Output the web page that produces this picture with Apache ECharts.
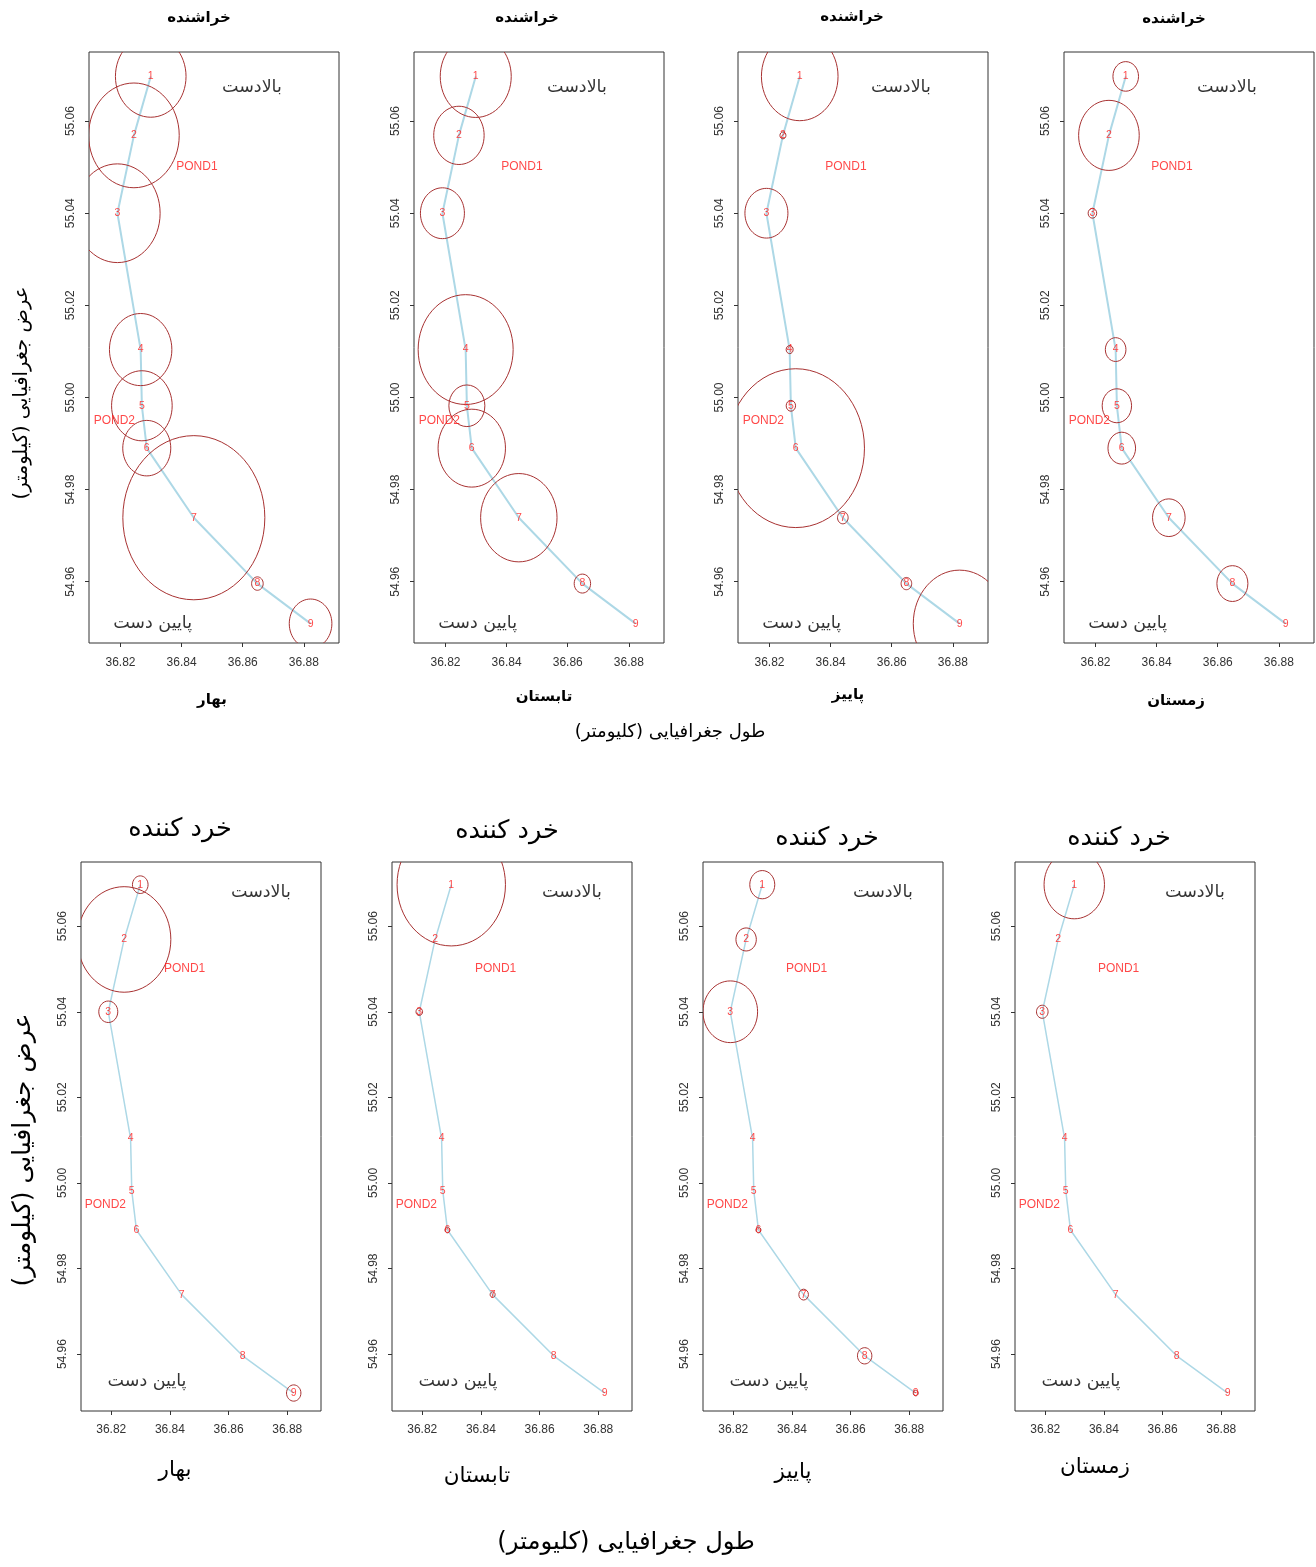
<!DOCTYPE html>
<html><head><meta charset="utf-8">
<script src="https://cdn.jsdelivr.net/npm/echarts@6/dist/echarts.min.js"></script>
<style>html,body{margin:0;padding:0;background:#fff}#c{width:1316px;height:1567px}</style>
</head><body><div id="c"></div>
<script>
// ---- data ----
const stationIds = ['1','2','3','4','5','6','7','8','9'];
const stationLon = [36.8299, 36.8244, 36.8190, 36.8266, 36.8270, 36.8286, 36.8440, 36.8648, 36.8822];
const stationLat = [55.0697, 55.0569, 55.0400, 55.0104, 54.9982, 54.9890, 54.9739, 54.9596, 54.9509];
const xTickValues = [36.82, 36.84, 36.86, 36.88];
const yTickValues = [54.96, 54.98, 55.00, 55.02, 55.04, 55.06];
const seasons = ['بهار', 'تابستان', 'پاییز', 'زمستان'];
const rowTitles = ['خراشنده', 'خرد کننده'];
const xAxisTitle = 'طول جغرافیایی (کلیومتر)';
const yAxisTitle = 'عرض جغرافیایی (کیلومتر)';
const pondNames = ['POND1', 'POND2'];
const pondLon = [36.845, 36.818];
const pondLat = [55.050, 54.995];
const flowNames = ['بالادست', 'پایین دست'];
const flowLonTop = [36.863, 36.8305];
const flowLatTop = [55.0672, 54.951];
const flowLonBottom = [36.871, 36.8322];
const flowLatBottom = [55.068, 54.9535];
// circle magnitudes (per station) for each process / season
const scraperSpring = [35.3, 45.3, 42.7, 31.2, 30.3, 24.0, 71.0, 5.8, 21.3];
const scraperSummer = [35.5, 25.2, 22.0, 47.5, 18.0, 33.7, 38.2, 8.2, 0];
const scraperAutumn = [38.3, 3.0, 21.5, 3.5, 4.7, 68.7, 5.3, 5.3, 46.3];
const scraperWinter = [12.8, 30.3, 4.3, 10.3, 14.7, 13.8, 16.3, 15.5, 0];
const crusherSpring = [7.8, 46.7, 9.5, 0, 0, 0, 0, 0, 7.2];
const crusherSummer = [54.2, 0, 3.3, 0, 0, 2.5, 2.5, 0, 0];
const crusherAutumn = [12.5, 10.2, 27.3, 0, 0, 2.5, 4.8, 7.2, 2.5];
const crusherWinter = [30.2, 0, 5.8, 0, 0, 0, 0, 0, 0];

// ---- layout ----
const X_MIN = 36.8097, X_MAX = 36.8915, Y_MIN = 54.9467, Y_MAX = 55.075;
const FA = 'DejaVu Sans';
const rows = [
  { sizes: [scraperSpring, scraperSummer, scraperAutumn, scraperWinter],
    top: 52, height: 591, width: 250, lefts: [89, 414, 738, 1064], stretch: 1.156,
    lineW: 2, tickFont: 12, xMargin: 14, flowLon: flowLonTop, flowLat: flowLatTop,
    titlePos: [[199, 18], [527, 18], [852, 17], [1174, 19]],
    seasonPos: [[212, 700], [544, 697], [848, 695], [1176, 701]],
    titleFont: 'bold 15px ' + FA, seasonFont: 'bold 15px ' + FA, flowFont: 17.5,
    xTitlePos: [670, 732], xTitleFont: '18px ' + FA,
    yTitlePos: [22, 393], yTitleFont: '19.5px ' + FA },
  { sizes: [crusherSpring, crusherSummer, crusherAutumn, crusherWinter],
    top: 862, height: 549, width: 240, lefts: [81, 392, 703, 1015], stretch: 1.13,
    lineW: 1.5, tickFont: 12, xMargin: 13, flowLon: flowLonBottom, flowLat: flowLatBottom,
    titlePos: [[180, 829], [507, 831], [827, 838], [1119, 838]],
    seasonPos: [[175, 1470], [477, 1476], [793, 1472], [1095, 1467]],
    titleFont: '25.5px ' + FA, seasonFont: '21.5px ' + FA, flowFont: 17.5,
    xTitlePos: [626, 1543], xTitleFont: '24.3px ' + FA,
    yTitlePos: [23, 1150], yTitleFont: '25px ' + FA }
];

const grid = [], xAxis = [], yAxis = [], series = [], graphic = [];
const pts = stationLon.map((x, k) => [x, stationLat[k]]);

rows.forEach((row, ri) => {
  row.sizes.forEach((sizes, si) => {
    const gi = ri * 4 + si;
    grid.push({ left: row.lefts[si], top: row.top, width: row.width, height: row.height,
      show: true, borderColor: '#333', borderWidth: 1, backgroundColor: 'transparent',
      containLabel: false, outerBoundsMode: 'none' });
    xAxis.push({ type: 'value', gridIndex: gi, min: X_MIN, max: X_MAX,
      axisLine: { show: false }, splitLine: { show: false },
      axisTick: { show: true, inside: false, length: 4, lineStyle: { color: '#333' }, customValues: xTickValues },
      axisLabel: { show: true, customValues: xTickValues, margin: row.xMargin, fontSize: row.tickFont,
        fontFamily: 'Liberation Sans', color: '#333', formatter: v => v.toFixed(2) } });
    yAxis.push({ type: 'value', gridIndex: gi, min: Y_MIN, max: Y_MAX,
      axisLine: { show: false }, splitLine: { show: false },
      axisTick: { show: true, inside: false, length: 4, lineStyle: { color: '#333' }, customValues: yTickValues },
      axisLabel: { show: true, customValues: yTickValues, rotate: 90, margin: 12, fontSize: row.tickFont,
        fontFamily: 'Liberation Sans', color: '#333', formatter: v => v.toFixed(2) } });

    series.push({ type: 'line', xAxisIndex: gi, yAxisIndex: gi, data: pts, symbol: 'none',
      lineStyle: { color: '#ADD8E6', width: row.lineW }, silent: true, z: 2, animation: false });
    const stretch = row.stretch;
    series.push({ type: 'custom', xAxisIndex: gi, yAxisIndex: gi, clip: true, silent: true, z: 3,
      animation: false, encode: { x: 0, y: 1 },
      data: stationLon.map((x, k) => [x, stationLat[k], sizes[k]]),
      renderItem: (params, api) => {
        const r = api.value(2);
        if (!r) return null;
        const p = api.coord([api.value(0), api.value(1)]);
        return { type: 'ellipse', shape: { cx: p[0], cy: p[1], rx: r, ry: r * stretch },
          style: { fill: 'none', stroke: '#A83232', lineWidth: 1 } };
      } });
    series.push({ type: 'scatter', xAxisIndex: gi, yAxisIndex: gi, data: pts, symbolSize: 1, silent: true,
      z: 4, animation: false, itemStyle: { color: 'rgba(0,0,0,0)' },
      label: { show: true, position: 'inside', formatter: p => stationIds[p.dataIndex],
        color: '#FF1A1A', fontSize: 10.5, fontFamily: 'Liberation Sans' } });
    series.push({ type: 'scatter', xAxisIndex: gi, yAxisIndex: gi, symbolSize: 1, silent: true, z: 4,
      animation: false, itemStyle: { color: 'rgba(0,0,0,0)' },
      data: pondNames.map((n, k) => ({ value: [pondLon[k], pondLat[k]], name: n })),
      label: { show: true, position: 'inside', formatter: p => p.name, color: '#FF1A1A',
        fontSize: 12, fontFamily: 'Liberation Sans' } });
    series.push({ type: 'scatter', xAxisIndex: gi, yAxisIndex: gi, symbolSize: 1, silent: true, z: 4,
      animation: false, itemStyle: { color: 'rgba(0,0,0,0)' },
      data: flowNames.map((n, k) => ({ value: [row.flowLon[k], row.flowLat[k]], name: n })),
      label: { show: true, position: 'inside', formatter: p => p.name, color: '#000',
        fontSize: row.flowFont, fontFamily: FA } });

    graphic.push({ type: 'text', x: row.titlePos[si][0], y: row.titlePos[si][1],
      style: { text: rowTitles[ri], font: row.titleFont, fill: '#000', align: 'center', verticalAlign: 'middle',
        textAlign: 'center', textVerticalAlign: 'middle' } });
    graphic.push({ type: 'text', x: row.seasonPos[si][0], y: row.seasonPos[si][1],
      style: { text: seasons[si], font: row.seasonFont, fill: '#000', align: 'center', verticalAlign: 'middle',
        textAlign: 'center', textVerticalAlign: 'middle' } });
  });
  graphic.push({ type: 'text', x: row.xTitlePos[0], y: row.xTitlePos[1],
    style: { text: xAxisTitle, font: row.xTitleFont, fill: '#000', align: 'center', verticalAlign: 'middle',
      textAlign: 'center', textVerticalAlign: 'middle' } });
  graphic.push({ type: 'text', x: row.yTitlePos[0], y: row.yTitlePos[1], rotation: Math.PI / 2,
    style: { text: yAxisTitle, font: row.yTitleFont, fill: '#000', align: 'center', verticalAlign: 'middle',
      textAlign: 'center', textVerticalAlign: 'middle' } });
});

const chart = echarts.init(document.getElementById('c'), null, { renderer: 'canvas' });
chart.setOption({ animation: false, backgroundColor: '#fff', grid, xAxis, yAxis, series, graphic });
</script></body></html>
